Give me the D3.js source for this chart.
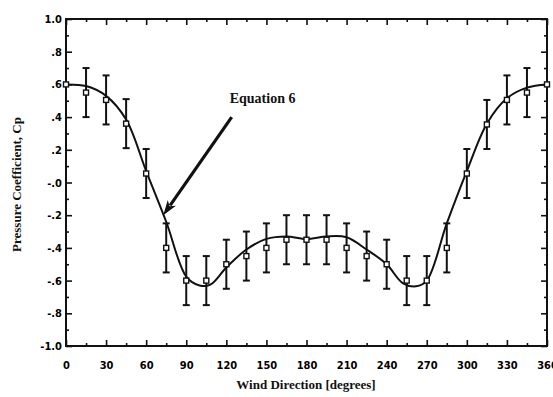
<!DOCTYPE html>
<html>
<head>
<meta charset="utf-8">
<script src="https://cdn.jsdelivr.net/npm/d3@7"></script>
<style>
  body { margin: 0; background: #fff; }
  .tick text { font-family: "DejaVu Sans Condensed", "Liberation Sans Narrow", sans-serif; font-weight: bold; font-size: 11px; fill: #000; }
  .tick line { stroke: #111; stroke-width: 1.6; }
  .title { font-family: "Liberation Serif", "DejaVu Serif", serif; font-weight: bold; font-size: 13px; fill: #111; }
  .note { font-family: "Liberation Serif", "DejaVu Serif", serif; font-weight: bold; font-size: 14px; fill: #111; }
</style>
</head>
<body>
<div class="chart"></div>
<script>
// measured points (every 15 degrees) with +/- error
var angles = [0, 15, 30, 45, 60, 75, 90, 105, 120, 135, 150, 165, 180, 195, 210, 225, 240, 255, 270, 285, 300, 315, 330, 345, 360];
var cpMean = [0.60, 0.55, 0.505, 0.36, 0.055, -0.40, -0.60, -0.60, -0.50, -0.45, -0.40, -0.35, -0.35, -0.35, -0.40, -0.45, -0.50, -0.60, -0.60, -0.40, 0.055, 0.355, 0.505, 0.55, 0.60];
var cpErr = [0, 0.15, 0.15, 0.15, 0.15, 0.15, 0.15, 0.15, 0.15, 0.15, 0.15, 0.15, 0.15, 0.15, 0.15, 0.15, 0.15, 0.15, 0.15, 0.15, 0.15, 0.15, 0.15, 0.15, 0];

// fitted curve (Equation 6)
var fitAngles = [0, 15, 30, 45, 60, 75, 90, 100, 108, 120, 135, 150, 165, 180, 195, 210, 225, 240, 252, 262, 270, 285, 300, 315, 330, 345, 360];
var fitCp = [0.60, 0.59, 0.53, 0.385, 0.07, -0.24, -0.575, -0.63, -0.625, -0.52, -0.41, -0.345, -0.33, -0.345, -0.33, -0.335, -0.41, -0.50, -0.615, -0.635, -0.60, -0.25, 0.07, 0.36, 0.515, 0.58, 0.60];

var xTicks = [0, 30, 60, 90, 120, 150, 180, 210, 240, 270, 300, 330, 360];
var yTicks = [-1.0, -0.8, -0.6, -0.4, -0.2, 0, 0.2, 0.4, 0.6, 0.8, 1.0];
var yTickLabels = ["-1.0", "-.8", "-.6", "-.4", "-.2", "-.0", ".2", ".4", ".6", ".8", "1.0"];

// annotation, in data units
var arrowFrom = [124, 0.40];
var arrowTo = [72.8, -0.20];
var noteText = "Equation 6";
var notePos = [122.5, 0.485];

var svgWidth = 553;
var svgHeight = 397;
var margin = { top: 19, right: 6, bottom: 51, left: 66 };
var width = svgWidth - margin.left - margin.right;
var height = svgHeight - margin.top - margin.bottom;

var svg = d3.select(".chart")
    .append("svg")
    .attr("width", svgWidth)
    .attr("height", svgHeight);

var chart = svg.append("g")
    .attr("transform", `translate(${margin.left},${margin.top})`);

var xScale = d3.scaleLinear().domain([0, 360]).range([0, width]);
var yScale = d3.scaleLinear().domain([-1, 1]).range([height, 0]);

var xMinor = d3.range(15, 360, 30);
var yMinor = d3.range(-0.9, 1.0, 0.2);

// minor ticks (inward) on all four sides
chart.append("g").attr("transform", `translate(0,${height})`)
    .call(d3.axisBottom(xScale).tickValues(xMinor).tickSize(-3).tickFormat("").tickSizeOuter(0));
chart.append("g")
    .call(d3.axisTop(xScale).tickValues(xMinor).tickSize(-3).tickFormat("").tickSizeOuter(0));
chart.append("g")
    .call(d3.axisLeft(yScale).tickValues(yMinor).tickSize(-3).tickFormat("").tickSizeOuter(0));
chart.append("g").attr("transform", `translate(${width},0)`)
    .call(d3.axisRight(yScale).tickValues(yMinor).tickSize(-3).tickFormat("").tickSizeOuter(0));

// major ticks
chart.append("g")
    .attr("class", "x-axis")
    .attr("transform", `translate(0,${height})`)
    .call(d3.axisBottom(xScale).tickValues(xTicks).tickSize(-6).tickPadding(15).tickSizeOuter(0));
chart.append("g")
    .call(d3.axisTop(xScale).tickValues(xTicks).tickSize(-6).tickFormat("").tickSizeOuter(0));
chart.append("g")
    .attr("class", "y-axis")
    .call(d3.axisLeft(yScale).tickValues(yTicks).tickSize(-6).tickPadding(4).tickSizeOuter(0)
        .tickFormat(function (d, i) { return yTickLabels[i]; }));
chart.append("g").attr("transform", `translate(${width},0)`)
    .call(d3.axisRight(yScale).tickValues(yTicks).tickSize(-6).tickFormat("").tickSizeOuter(0));

chart.selectAll(".domain").remove();

chart.append("rect")
    .attr("width", width)
    .attr("height", height)
    .attr("fill", "none")
    .attr("stroke", "#111")
    .attr("stroke-width", 2);

// fitted curve
var fit = fitAngles.map(function (a, i) { return { a: a, v: fitCp[i] }; });
var line = d3.line()
    .x(function (d) { return xScale(d.a); })
    .y(function (d) { return yScale(d.v); })
    .curve(d3.curveCatmullRom.alpha(0.5));

chart.append("path")
    .datum(fit)
    .attr("d", line)
    .attr("fill", "none")
    .attr("stroke", "#111")
    .attr("stroke-width", 2);

// error bars
var pts = angles.map(function (a, i) { return { a: a, v: cpMean[i], e: cpErr[i] }; });
var bars = chart.selectAll(".err")
    .data(pts.filter(function (d) { return d.e > 0; }))
    .enter()
    .append("g")
    .attr("class", "err")
    .attr("stroke", "#111")
    .attr("stroke-width", 2);

bars.append("line")
    .attr("x1", function (d) { return xScale(d.a); })
    .attr("x2", function (d) { return xScale(d.a); })
    .attr("y1", function (d) { return yScale(d.v + d.e); })
    .attr("y2", function (d) { return yScale(d.v - d.e); });
bars.append("line")
    .attr("x1", function (d) { return xScale(d.a) - 3.5; })
    .attr("x2", function (d) { return xScale(d.a) + 3.5; })
    .attr("y1", function (d) { return yScale(d.v + d.e); })
    .attr("y2", function (d) { return yScale(d.v + d.e); });
bars.append("line")
    .attr("x1", function (d) { return xScale(d.a) - 3.5; })
    .attr("x2", function (d) { return xScale(d.a) + 3.5; })
    .attr("y1", function (d) { return yScale(d.v - d.e); })
    .attr("y2", function (d) { return yScale(d.v - d.e); });

// square markers
chart.selectAll(".marker")
    .data(pts)
    .enter()
    .append("rect")
    .attr("class", "marker")
    .attr("x", function (d) { return xScale(d.a) - 2.5; })
    .attr("y", function (d) { return yScale(d.v) - 2.5; })
    .attr("width", 5)
    .attr("height", 5)
    .attr("fill", "#fff")
    .attr("stroke", "#111")
    .attr("stroke-width", 1.4);

// arrow annotation
var ax1 = xScale(arrowFrom[0]), ay1 = yScale(arrowFrom[1]);
var ax2 = xScale(arrowTo[0]), ay2 = yScale(arrowTo[1]);
var ang = Math.atan2(ay2 - ay1, ax2 - ax1);
var headLen = 15, headW = 5;
var bx = ax2 - headLen * Math.cos(ang), by = ay2 - headLen * Math.sin(ang);

chart.append("line")
    .attr("x1", ax1).attr("y1", ay1)
    .attr("x2", bx + 3 * Math.cos(ang)).attr("y2", by + 3 * Math.sin(ang))
    .attr("stroke", "#111")
    .attr("stroke-width", 3.2);

chart.append("path")
    .attr("d", "M" + ax2 + "," + ay2 +
        "L" + (bx + headW * Math.sin(ang)) + "," + (by - headW * Math.cos(ang)) +
        "L" + (bx + 4 * Math.cos(ang)) + "," + (by + 4 * Math.sin(ang)) +
        "L" + (bx - headW * Math.sin(ang)) + "," + (by + headW * Math.cos(ang)) + "Z")
    .attr("fill", "#111");

chart.append("text")
    .attr("class", "note")
    .attr("x", xScale(notePos[0]))
    .attr("y", yScale(notePos[1]))
    .text(noteText);

// axis titles
svg.append("text")
    .attr("class", "title")
    .attr("text-anchor", "middle")
    .attr("x", 306)
    .attr("y", 389)
    .text("Wind Direction [degrees]");

svg.append("text")
    .attr("class", "title")
    .attr("text-anchor", "middle")
    .attr("transform", `translate(21,${margin.top + height / 2 + 2})rotate(270)`)
    .text("Pressure Coefficient, Cp");
</script>
</body>
</html>
